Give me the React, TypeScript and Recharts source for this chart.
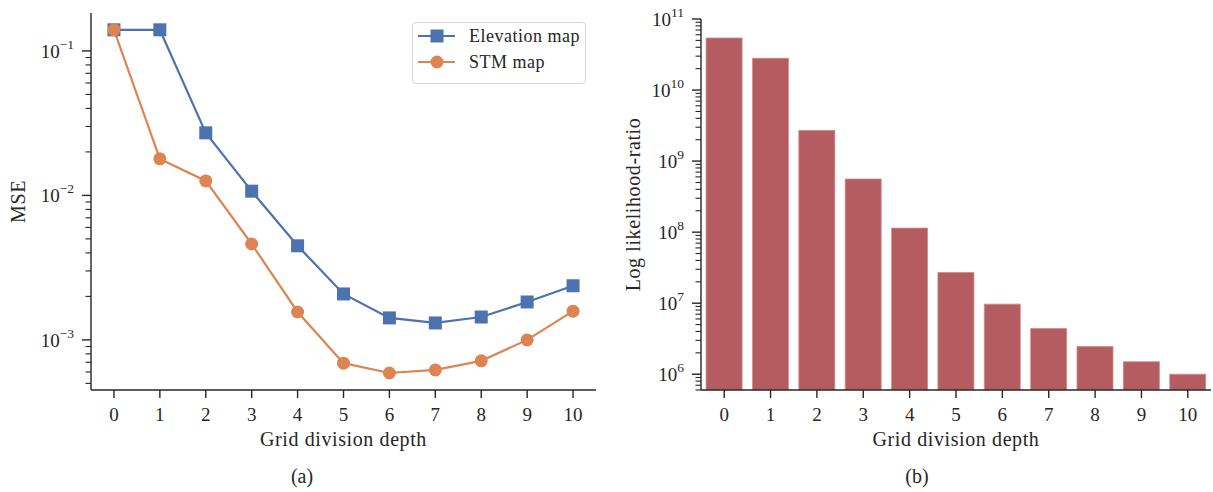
import React from 'react';
import { LineChart, Line, BarChart, Bar, XAxis, YAxis, Legend, Label } from 'recharts';

const FONT = '"Liberation Serif", "DejaVu Serif", serif';
const INK = '#262626';
const BLUE = '#4C72B0';
const ORANGE = '#DD8452';
const BAR_RED = '#B45C60';

// grid division depth 0..10
const depths = [0, 1, 2, 3, 4, 5, 6, 7, 8, 9, 10];
const elevationMse = [0.14, 0.14, 0.0271, 0.0107, 0.00448, 0.00208, 0.00142, 0.00131, 0.00144, 0.00183, 0.00237];
const stmMse = [0.14, 0.0179, 0.0126, 0.00461, 0.00156, 0.00069, 0.00059, 0.00062, 0.000716, 0.001, 0.00158];
const likelihoodRatio = [5.4e10, 2.8e10, 2.7e9, 5.6e8, 1.14e8, 2.7e7, 9.7e6, 4.4e6, 2.45e6, 1.5e6, 1.0e6];

const mseDomain = [4.5e-4, 0.183];
const ratioDomain = [6e5, 1e11];

const mseRows = depths.map((d, i) => ({ depth: d, elevation: elevationMse[i], stm: stmMse[i] }));
const ratioRows = depths.map((d, i) => ({ depth: d, ratio: likelihoodRatio[i] }));

// every m * 10^e inside the domain, so minor ticks show up like matplotlib's log locator
function logTicks(domain: number[]) {
  const [lo, hi] = domain;
  const out: number[] = [];
  for (let e = Math.floor(Math.log10(lo)); e <= Math.ceil(Math.log10(hi)); e++) {
    for (let m = 1; m < 10; m++) {
      const v = Number((m * Math.pow(10, e)).toPrecision(6));
      if (v >= lo && v <= hi * 1.0001) out.push(v);
    }
  }
  return out;
}

const textStyle = { fontFamily: FONT, fill: INK };

const LogTick = ({ x, y, payload }: any) => {
  const v = payload.value;
  const exp = Math.round(Math.log10(v));
  const major = Math.abs(Math.log10(v) - exp) < 1e-6;
  return (
    <g>
      <line x1={x} x2={x - (major ? 9 : 5.5)} y1={y} y2={y} stroke={INK} strokeWidth={major ? 1.4 : 1.1} />
      {major && (
        <text x={x - 17} y={y + 7} textAnchor="end" fontSize={19} {...textStyle}>
          10
          <tspan dy={-9} fontSize={13.5}>{exp < 0 ? `\u2212${-exp}` : `${exp}`}</tspan>
        </text>
      )}
    </g>
  );
};

const DepthTick = ({ x, y, payload }: any) => (
  <g>
    <line x1={x} x2={x} y1={y} y2={y + 8} stroke={INK} strokeWidth={1.4} />
    <text x={x} y={y + 31} textAnchor="middle" fontSize={19} {...textStyle}>
      {payload.value}
    </text>
  </g>
);

const xTitle = (text: string) => ({ viewBox }: any) => (
  <text
    x={viewBox.x + viewBox.width / 2}
    y={viewBox.y + 56}
    textAnchor="middle"
    fontSize={20}
    letterSpacing={0.6}
    {...textStyle}
  >
    {text}
  </text>
);

const yTitle = (text: string, cx: number) => ({ viewBox }: any) => {
  const cy = viewBox.y + viewBox.height / 2;
  return (
    <text
      transform={`translate(${cx}, ${cy}) rotate(-90)`}
      textAnchor="middle"
      dominantBaseline="central"
      fontSize={20}
      letterSpacing={0.6}
      {...textStyle}
    >
      {text}
    </text>
  );
};

const SquareDot = ({ cx, cy, index }: any) => (
  <rect key={`sq-${index}`} x={cx - 6.5} y={cy - 6.5} width={13} height={13} fill={BLUE} />
);

const CircleDot = ({ cx, cy, index }: any) => (
  <circle key={`ci-${index}`} cx={cx} cy={cy} r={6.5} fill={ORANGE} />
);

const legendItems = [
  { name: 'Elevation map', color: BLUE, marker: 'square' },
  { name: 'STM map', color: ORANGE, marker: 'circle' },
];

const MseLegend = () => (
  <div
    style={{
      width: 174,
      height: 62,
      boxSizing: 'border-box',
      border: '1px solid #d4d4d4',
      borderRadius: 4,
      background: 'rgba(255,255,255,0.85)',
      fontFamily: FONT,
      fontSize: 18,
      letterSpacing: 0.5,
      color: INK,
      position: 'relative',
    }}
  >
    {legendItems.map((item, i) => (
      <div key={item.name} style={{ position: 'absolute', left: 5, top: 4 + i * 26, height: 18, display: 'flex', alignItems: 'center' }}>
        <svg width={38} height={16} style={{ display: 'block' }}>
          <line x1={0} x2={37} y1={8} y2={8} stroke={item.color} strokeWidth={2.2} />
          {item.marker === 'square' ? (
            <rect x={12.5} y={1.5} width={13} height={13} fill={item.color} />
          ) : (
            <circle cx={19} cy={8} r={6.5} fill={item.color} />
          )}
        </svg>
        <span style={{ marginLeft: 13, lineHeight: '18px' }}>{item.name}</span>
      </div>
    ))}
  </div>
);

const caption = (text: string, x: number) => (
  <div
    style={{
      position: 'absolute',
      left: x - 40,
      width: 80,
      top: 465,
      textAlign: 'center',
      fontFamily: FONT,
      fontSize: 20,
      color: INK,
    }}
  >
    {text}
  </div>
);

export default function App() {
  return (
    <div style={{ position: 'absolute', left: 0, top: 0, width: 1213, height: 492, background: '#fff' }}>
      <div style={{ position: 'absolute', left: 0, top: 0 }}>
        <LineChart width={620} height={492} data={mseRows} margin={{ top: 13, right: 24, left: 31, bottom: 62 }}>
          <XAxis
            dataKey="depth"
            type="number"
            domain={[-0.5, 10.5]}
            ticks={depths}
            interval={0}
            tickSize={0}
            tickMargin={0}
            tickLine={false}
            tick={<DepthTick />}
            height={40}
            axisLine={{ stroke: INK, strokeWidth: 1.4 }}
          >
            <Label content={xTitle('Grid division depth')} />
          </XAxis>
          <YAxis
            type="number"
            scale="log"
            domain={mseDomain}
            allowDataOverflow
            ticks={logTicks(mseDomain)}
            interval={0}
            tickSize={0}
            tickMargin={0}
            tickLine={false}
            tick={<LogTick />}
            width={60}
            axisLine={{ stroke: INK, strokeWidth: 1.4 }}
          >
            <Label content={yTitle('MSE', 18)} />
          </YAxis>
          <Legend
            layout="vertical"
            align="center"
            verticalAlign="middle"
            wrapperStyle={{ left: 412, top: 22, width: 174 }}
            content={<MseLegend />}
          />
          <Line
            dataKey="elevation"
            name="Elevation map"
            stroke={BLUE}
            strokeWidth={2.2}
            dot={SquareDot}
            activeDot={false}
            isAnimationActive={false}
          />
          <Line
            dataKey="stm"
            name="STM map"
            stroke={ORANGE}
            strokeWidth={2.2}
            dot={CircleDot}
            activeDot={false}
            isAnimationActive={false}
          />
        </LineChart>
      </div>

      <div style={{ position: 'absolute', left: 620, top: 0 }}>
        <BarChart width={593} height={492} data={ratioRows} margin={{ top: 19, right: 2, left: 21, bottom: 62 }} barCategoryGap="11%">
          <XAxis
            dataKey="depth"
            type="category"
            interval={0}
            tickSize={0}
            tickMargin={0}
            tickLine={false}
            tick={<DepthTick />}
            height={40}
            axisLine={{ stroke: INK, strokeWidth: 1.4 }}
          >
            <Label content={xTitle('Grid division depth')} />
          </XAxis>
          <YAxis
            type="number"
            scale="log"
            domain={ratioDomain}
            allowDataOverflow
            ticks={logTicks(ratioDomain)}
            interval={0}
            tickSize={0}
            tickMargin={0}
            tickLine={false}
            tick={<LogTick />}
            width={60}
            axisLine={{ stroke: INK, strokeWidth: 1.4 }}
          >
            <Label content={yTitle('Log likelihood-ratio', 13)} />
          </YAxis>
          <Bar dataKey="ratio" fill={BAR_RED} stroke="#C98C8E" strokeWidth={0.8} isAnimationActive={false} />
        </BarChart>
      </div>

      {caption('(a)', 302)}
      {caption('(b)', 917)}
    </div>
  );
}
